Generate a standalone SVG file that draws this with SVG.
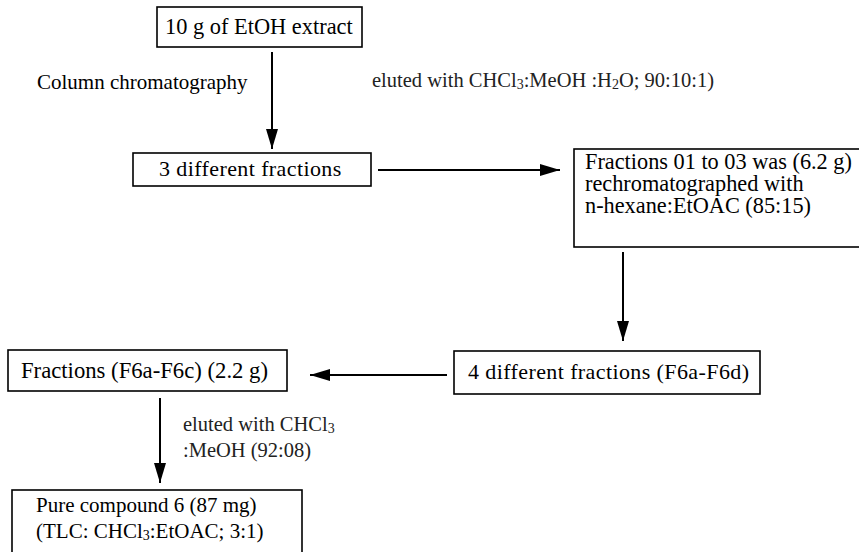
<svg xmlns="http://www.w3.org/2000/svg" width="859" height="552" viewBox="0 0 859 552">
<defs>
<style>
.box{fill:#fff;stroke:#000;stroke-width:1.6}
.t{font-family:"Liberation Serif","Times New Roman",serif;font-size:21px;fill:#000}
.e{font-family:"Liberation Serif","Times New Roman",serif;font-size:20.5px;fill:#222}
.sub{font-size:14px}
.c{stroke:#000;stroke-width:2;fill:none;marker-end:url(#ah)}
</style>
<marker id="ah" markerUnits="userSpaceOnUse" markerWidth="22" markerHeight="14" refX="20" refY="6" orient="auto">
<path d="M0,0 L20,6 L0,12 Z" fill="#000"/>
</marker>
</defs>
<rect width="859" height="552" fill="#fff"/>
<g id="connectors">
<line class="c" x1="272" y1="52" x2="272" y2="149"/>
<line class="c" x1="378" y1="170" x2="560" y2="170"/>
<line class="c" x1="623" y1="252" x2="623" y2="341"/>
<line class="c" x1="447" y1="375" x2="310" y2="375"/>
<line class="c" x1="160" y1="398" x2="160" y2="483"/>
</g>
<g id="labels">
<text class="t" x="37" y="89">Column chromatography</text>
<text class="e" x="372" y="87">eluted with CHCl<tspan class="sub" dy="2">3</tspan><tspan dy="-2">:MeOH :H</tspan><tspan class="sub" dy="2">2</tspan><tspan dy="-2">O; 90:10:1)</tspan></text>
<text class="e" x="183" y="431">eluted with CHCl<tspan class="sub" dy="2">3</tspan></text>
<text class="e" x="183" y="457">:MeOH (92:08)</text>
</g>
<g id="n1">
<rect class="box" x="157" y="7" width="205" height="40"/>
<text class="t" x="165" y="34" style="font-size:22.4px">10 g of EtOH extract</text>
</g>
<g id="n2">
<rect class="box" x="133" y="153" width="238" height="33"/>
<text class="t" x="159" y="176" style="font-size:22px;letter-spacing:0.4px">3 different fractions</text>
</g>
<g id="n3">
<rect class="box" x="574" y="149" width="296" height="98"/>
<text class="t" x="585" y="169" style="font-size:22.3px">Fractions 01 to 03 was (6.2 g)</text>
<text class="t" x="585" y="191" style="font-size:22.3px">rechromatographed with</text>
<text class="t" x="585" y="213" style="font-size:22.3px">n-hexane:EtOAC (85:15)</text>
</g>
<g id="n4">
<rect class="box" x="454" y="351" width="306" height="43"/>
<text class="t" x="468" y="379" style="font-size:22px;letter-spacing:0.4px">4 different fractions (F6a-F6d)</text>
</g>
<g id="n5">
<rect class="box" x="8" y="350" width="279" height="41"/>
<text class="t" x="21" y="378" style="font-size:22.7px">Fractions (F6a-F6c) (2.2 g)</text>
</g>
<g id="n6">
<rect class="box" x="12" y="490" width="290" height="70"/>
<text class="t" x="36" y="512">Pure compound 6 (87 mg)</text>
<text class="t" x="36" y="538">(TLC: CHCl<tspan class="sub" dy="2">3</tspan><tspan dy="-2">:EtOAC; 3:1)</tspan></text>
</g>
</svg>
